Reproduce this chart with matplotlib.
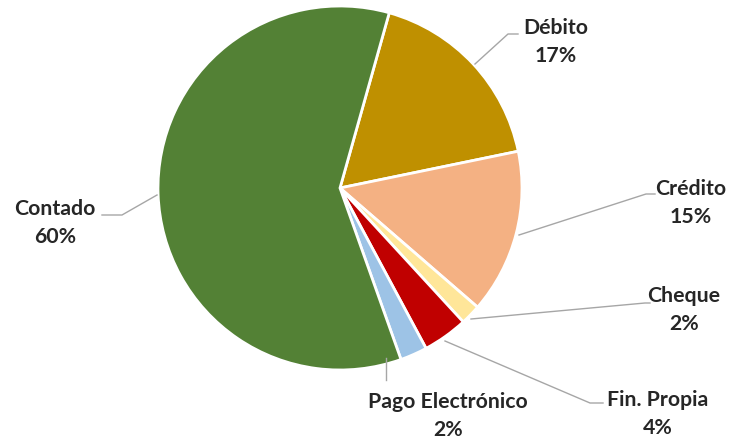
import matplotlib.pyplot as plt

# --------------------------
# Datos
# --------------------------
categorias = ["Débito", "Crédito", "Cheque", "Fin. Propia", "Pago Electrónico", "Contado"]
valores = [17.4, 14.6, 1.8, 4.0, 2.4, 59.8]
colores = ["#BF9000", "#F4B183", "#FFE699", "#C00000", "#9DC3E6", "#538135"]

# posiciones de etiquetas (pixeles, y hacia arriba) y quiebres de las lineas guia
pos_texto = [(556, 399), (691, 238), (684, 131), (658, 27), (448, 25), (55, 218)]
guias = [
    [(508, 407), (518, 407)],
    [(646, 247), (655, 247)],
    [(645, 138), (650, 138)],
    [(590, 38), (603, 38)],
    [(386, 61), (386, 61)],
    [(122, 226), (102, 226)],
]
ancla = [(475, 377), (519, 206), (471, 122), (445, 100), (386, 83), (157, 246)]

plt.rcParams['font.family'] = ['Lato', 'DejaVu Sans']

fig = plt.figure(figsize=(7.35, 4.41), dpi=100)
ax = fig.add_axes([0, 0, 1, 1])

ax.pie(valores, colors=colores, startangle=74.3, counterclock=False,
       center=(340, 253), radius=182, frame=True,
       wedgeprops=dict(edgecolor='white', linewidth=2))
ax.set_xlim(0, 735)
ax.set_ylim(0, 441)
ax.set_aspect('equal')
ax.axis('off')

total = sum(valores)
for cat, v, (tx, ty), g, a in zip(categorias, valores, pos_texto, guias, ancla):
    xs = [a[0]] + [p[0] for p in g]
    ys = [a[1]] + [p[1] for p in g]
    ax.plot(xs, ys, color='#A6A6A6', lw=1)
    ax.text(tx, ty, "{}\n{:.0f}%".format(cat, v / total * 100), ha='center', va='center',
            fontsize=15.3, fontweight='bold', color='#262626', linespacing=1.5)

fig.savefig("out.png", dpi=100)
